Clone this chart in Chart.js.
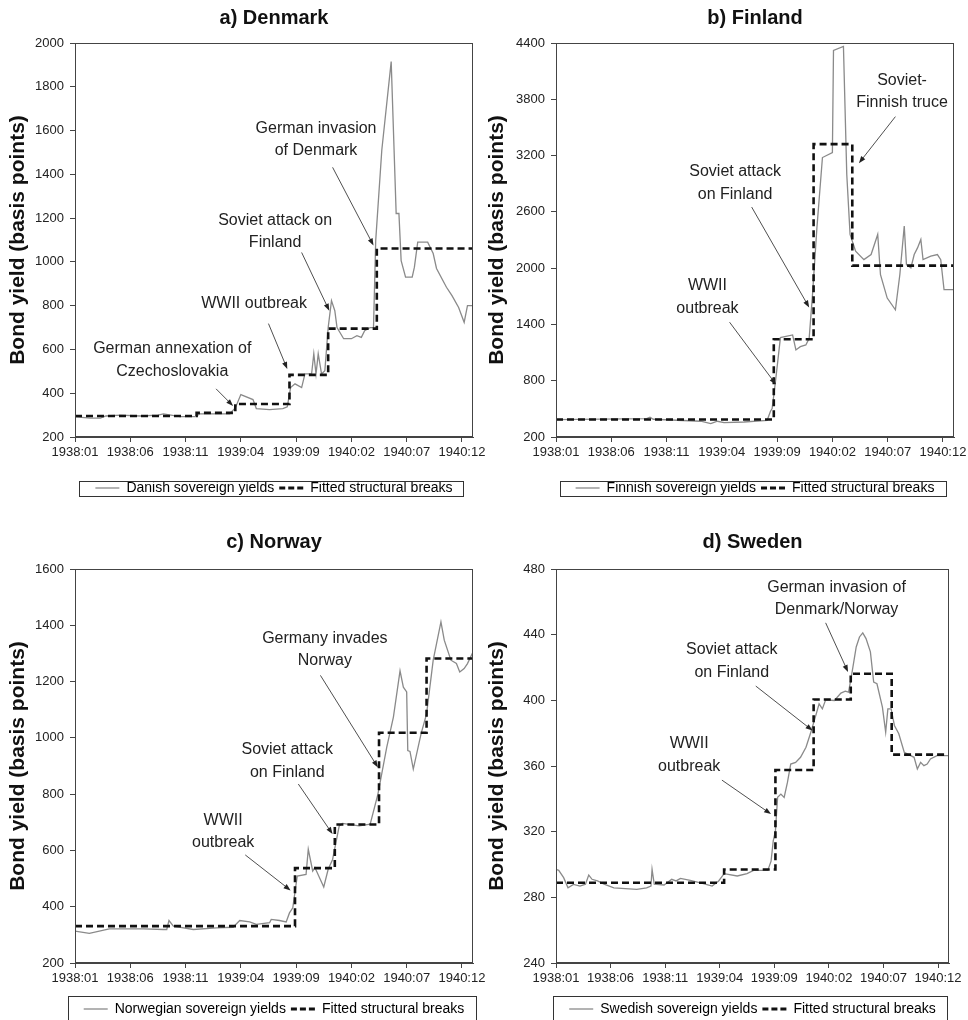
<!DOCTYPE html>
<html>
<head>
<meta charset="utf-8">
<script src="https://cdn.jsdelivr.net/npm/chart.js@4.4.1/dist/chart.umd.min.js"></script>
<style>
  html, body { margin: 0; padding: 0; background: #fff; overflow: hidden; }
  canvas { position: absolute; }
</style>
</head>
<body>
<canvas id="dk" width="490" height="505" style="left:0;top:0"></canvas>
<canvas id="fi" width="484" height="505" style="left:484px;top:0"></canvas>
<canvas id="no" width="490" height="526" style="left:0;top:500px"></canvas>
<canvas id="sw" width="484" height="526" style="left:484px;top:500px"></canvas>
<script>
// month index: 0 = 1938:01
const dkMonth = [0, 1.4, 2.3, 2.8, 4.1, 5.9, 7.5, 8.0, 9.5, 10.9, 11.3, 14.0, 14.5, 15.0, 16.1, 16.4, 17.6, 18.8, 19.2, 19.5,
  19.9, 20.5, 20.8, 21.4, 21.6, 21.8, 22.0, 22.3, 22.6, 22.9, 23.2, 23.5, 23.7, 24.3, 25.0, 25.5, 25.9, 26.2, 26.7, 27.0,
  27.2, 27.75, 28.6, 29.05, 29.3, 29.5, 29.9, 30.5, 30.7, 31.0, 31.9, 32.4, 32.7, 33.6, 34.1, 34.7, 35.2, 35.5, 36];
const dkYield = [292, 286, 286, 296, 300, 296, 300, 306, 293, 293, 306, 306, 333, 394, 371, 330, 325, 330, 338, 426,
  443, 426, 488, 488, 580, 488, 580, 488, 503, 700, 823, 777, 700, 649, 649, 663, 655, 686, 700, 700,
  1098, 1510, 1915, 1221, 1221, 1006, 930, 930, 976, 1090, 1090, 1038, 970, 884, 846, 792, 724, 800, 800];
const dkBreaks = [11.0, 14.5, 19.4, 22.9, 27.3];
const dkLevels = [296, 310, 351, 484, 695, 1061];

const fiMonth = [0, 8.2, 8.5, 8.8, 13.1, 14.0, 14.6, 15.2, 17.0, 19.1, 19.4, 19.55, 19.85, 20.3, 21.4, 21.7, 22.1, 22.6,
  22.9, 23.2, 23.6, 24.1, 25.0, 25.1, 26.0, 26.3, 26.6, 27.1, 27.85, 28.5, 29.1, 29.35, 29.96, 30.7, 31.1, 31.5, 31.7,
  32.1, 32.4, 32.7, 33.0, 33.2, 33.9, 34.5, 34.8, 35.1, 36];
const fiYield = [386, 396, 410, 389, 368, 343, 368, 353, 360, 378, 475, 503, 789, 1260, 1288, 1128, 1163, 1181,
  1253, 1716, 2430, 3179, 3233, 4321, 4364, 3001, 2359, 2180, 2091, 2145, 2359, 1930, 1681, 1556, 1930, 2448, 2038,
  2002, 2145, 2216, 2305, 2091, 2127, 2145, 2091, 1770, 1770];
const fiBreaks = [19.7, 23.3, 26.8];
const fiLevels = [386, 1242, 3322, 2027];

const noMonth = [0, 1.3, 3.1, 6.2, 8.0, 8.3, 8.5, 8.9, 10.7, 12.8, 14.3, 14.9, 15.8, 16.4, 17.6, 17.75, 18.5, 19.1, 19.4,
  19.7, 20.1, 20.9, 21.1, 21.5, 21.7, 22.5, 22.9, 23.3, 23.9, 24.2, 25.7, 26.7, 27.4, 28.2, 28.8, 29.4, 29.7, 30.0,
  30.1, 30.3, 30.6, 31.3, 31.8, 32.4, 33.1, 33.4, 34.0, 34.5, 34.8, 35.2, 35.5, 36];
const noYield = [313, 305, 321, 321, 319, 319, 351, 331, 319, 325, 327, 351, 346, 337, 343, 355, 351, 346, 378,
  396, 509, 515, 604, 527, 539, 470, 533, 568, 687, 696, 687, 693, 800, 967, 1074, 1238, 1180, 1163,
  955, 952, 889, 1014, 1085, 1276, 1412, 1347, 1276, 1264, 1234, 1246, 1264, 1305];
const noBreaks = [19.9, 23.5, 27.5, 31.8];
const noLevels = [331, 537, 692, 1018, 1282];

const swMonth = [0, 0.25, 0.7, 1.1, 1.6, 2.2, 2.7, 3.0, 3.3, 3.8, 4.4, 5.3, 7.4, 8.3, 8.7, 8.8, 9.0, 9.9, 10.6, 11.0,
  11.4, 12.3, 13.5, 14.3, 14.9, 15.4, 16.6, 17.5, 18.1, 19.4, 19.7, 19.9, 20.1, 20.3, 20.6, 20.9, 21.2, 21.5, 21.95,
  22.4, 22.9, 23.3, 23.8, 24.1, 24.4, 24.7, 25.5, 26.1, 26.5, 26.8, 27.1, 27.5, 27.8, 28.1, 28.4, 28.8, 29.1, 29.4,
  29.9, 30.2, 30.4, 30.7, 31.0, 31.4, 31.9, 32.8, 33.1, 33.4, 33.7, 34.0, 34.3, 34.9, 36];
const swYield = [297, 296.4, 292, 285.8, 287.9, 286.9, 288, 293.6, 291, 290, 288, 285.8, 284.8, 285.8, 286.9, 297, 288, 287.5, 291, 290,
  291.5, 290.3, 288.3, 286.9, 290, 294.4, 293, 294.4, 296.4, 296.4, 302, 314.4, 320.5, 340.9, 342.9, 340.9, 350, 361.2, 362.2,
  365.3, 371.4, 379.6, 390.8, 397.9, 394.8, 400.3, 399.9, 404.4, 405.6, 405, 416.2, 432.5, 438.6, 441.1, 437.6, 429.5, 411.1, 410.1,
  395.9, 380.6, 394.8, 394.8, 384.7, 379.6, 368.4, 365.3, 358.2, 362.2, 360.2, 361.2, 364.3, 366.3, 366.3];
const swBreaks = [15.4, 20.1, 23.6, 27.0, 30.75];
const swLevels = [288.9, 297, 357.6, 400.5, 416.2, 366.9];

Chart.defaults.font.family = '"Liberation Sans", Arial, sans-serif';
Chart.defaults.color = '#222';
Chart.defaults.animation = false;

function monthLabel(m) {
  const yr = 1938 + Math.floor(m / 12);
  return yr + ':' + String(m % 12 + 1).padStart(2, '0');
}
const pts = (xs, ys) => xs.map((x, i) => ({ x: x, y: ys[i] }));
function stepPoints(breaks, levels) {
  const out = [{ x: 0, y: levels[0] }];
  breaks.forEach((b, i) => out.push({ x: b, y: levels[i + 1] }));
  out.push({ x: 36, y: levels[levels.length - 1] });
  return out;
}

function arrow(ctx, x1, y1, x2, y2) {
  const ang = Math.atan2(y2 - y1, x2 - x1), len = 7, wid = 2.6;
  const c = Math.cos(ang), s = Math.sin(ang);
  ctx.beginPath();
  ctx.moveTo(x1, y1);
  ctx.lineTo(x2 - c * len * 0.7, y2 - s * len * 0.7);
  ctx.stroke();
  ctx.beginPath();
  ctx.moveTo(x2, y2);
  ctx.lineTo(x2 - len * c + wid * s, y2 - len * s - wid * c);
  ctx.lineTo(x2 - len * c - wid * s, y2 - len * s + wid * c);
  ctx.closePath();
  ctx.fill();
}

// frame round the plot, event notes with arrows, box round the legend
const notesPlugin = {
  id: 'notes',
  afterDraw(chart, args, opts) {
    const { ctx, chartArea: a, scales: { x, y } } = chart;
    ctx.save();
    ctx.strokeStyle = '#444';
    ctx.lineWidth = 1;
    ctx.strokeRect(Math.round(a.left) + 0.5, Math.round(a.top) + 0.5, Math.round(a.right - a.left) - 1, Math.round(a.bottom - a.top) - 1);

    ctx.font = '16px "Liberation Sans", Arial, sans-serif';
    ctx.fillStyle = '#222';
    ctx.strokeStyle = '#222';
    ctx.lineWidth = 0.8;
    ctx.textAlign = 'center';
    ctx.textBaseline = 'middle';
    opts.notes.forEach(n => {
      const px = x.getPixelForValue(n.at[0]), py = y.getPixelForValue(n.at[1]);
      n.text.forEach((t, i) => ctx.fillText(t, px, py + i * 22.5));
      arrow(ctx, x.getPixelForValue(n.arrow[0]), y.getPixelForValue(n.arrow[1]),
        x.getPixelForValue(n.arrow[2]), y.getPixelForValue(n.arrow[3]));
    });

    const hb = chart.legend.legendHitBoxes;
    const last = hb[hb.length - 1];
    const left = hb[0].left - 16, right = last.left + last.width + 11;
    const cy = hb[0].top + hb[0].height / 2;
    ctx.strokeStyle = '#333';
    ctx.lineWidth = 1;
    ctx.strokeRect(Math.round(left) + 0.5, Math.round(cy - opts.boxHalf) + 0.5, Math.round(right - left), Math.round(2 * opts.boxHalf));
    ctx.restore();
  }
};

function makeChart(id, p) {
  return new Chart(document.getElementById(id), {
    type: 'line',
    data: {
      datasets: [{
        label: p.seriesLabel,
        data: pts(p.months, p.yields),
        borderColor: '#8a8a8a',
        borderWidth: 1.3,
        pointRadius: 0,
        order: 2
      }, {
        label: 'Fitted structural breaks',
        data: stepPoints(p.breaks, p.levels),
        borderColor: '#111',
        borderWidth: 2.6,
        borderDash: [7, 4],
        stepped: 'before',
        pointRadius: 0,
        order: 1
      }]
    },
    options: {
      responsive: false,
      layout: { padding: { left: 0, right: p.padR, top: 0, bottom: 0 } },
      scales: {
        x: {
          type: 'linear', min: 0, max: 36,
          ticks: { stepSize: 5, includeBounds: false, autoSkip: false, maxRotation: 0, padding: 3,
            font: { size: 13 }, color: '#222', callback: v => monthLabel(v) },
          grid: { drawOnChartArea: false, tickLength: 5, color: '#444' },
          border: { color: '#444' },
          afterFit: s => { s.height = p.xH; s.paddingLeft = 0; s.paddingRight = 0; }
        },
        y: {
          min: p.yMin, max: p.yMax,
          ticks: { stepSize: p.yStep, padding: 6, font: { size: 13 }, color: '#222', callback: v => String(v) },
          grid: { drawOnChartArea: false, tickLength: 5, color: '#444' },
          border: { color: '#444' },
          title: { display: true, text: 'Bond yield (basis points)', color: '#111',
            font: { size: 21, weight: 'bold' }, padding: { top: p.yTitlePad, bottom: 0 } },
          afterFit: s => { s.width = p.yW; }
        }
      },
      plugins: {
        title: { display: true, text: p.title, fullSize: false, color: '#111',
          font: { size: 20, weight: 'bold' }, padding: p.titlePad },
        legend: {
          position: 'bottom', fullSize: false,
          labels: {
            usePointStyle: true, pointStyleWidth: 24, padding: 5, color: '#222', font: { size: 14 },
            generateLabels: chart => chart.data.datasets.map((ds, i) => ({
              text: ds.label, datasetIndex: i, hidden: false,
              strokeStyle: ds.borderColor, fillStyle: ds.borderColor,
              lineWidth: i ? 3 : 1.3, lineDash: i ? [6, 3] : [], pointStyle: 'line'
            }))
          }
        },
        tooltip: { enabled: false },
        notes: { notes: p.notes, boxHalf: p.boxHalf }
      }
    },
    plugins: [notesPlugin]
  });
}

makeChart('dk', {
  title: 'a) Denmark', seriesLabel: 'Danish sovereign yields',
  months: dkMonth, yields: dkYield, breaks: dkBreaks, levels: dkLevels,
  yMin: 200, yMax: 2000, yStep: 200,
  yW: 75, padR: 17, xH: 39, yTitlePad: 6, titlePad: { top: 6, bottom: 13 }, boxHalf: 7.5,
  notes: [
    { text: ['German annexation of', 'Czechoslovakia'], at: [8.8, 603], arrow: [12.76, 420, 14.3, 342] },
    { text: ['WWII outbreak'], at: [16.2, 809], arrow: [17.5, 718, 19.2, 511] },
    { text: ['Soviet attack on', 'Finland'], at: [18.1, 1189], arrow: [20.5, 1043, 23.0, 777] },
    { text: ['German invasion', 'of Denmark'], at: [21.8, 1611], arrow: [23.3, 1432, 27.0, 1075] }
  ]
});

makeChart('fi', {
  title: 'b) Finland', seriesLabel: 'Finnish sovereign yields',
  months: fiMonth, yields: fiYield, breaks: fiBreaks, levels: fiLevels,
  yMin: 200, yMax: 4400, yStep: 600,
  yW: 72, padR: 14, xH: 39, yTitlePad: 1, titlePad: { top: 6, bottom: 13 }, boxHalf: 7.5,
  notes: [
    { text: ['Soviet-', 'Finnish truce'], at: [31.3, 4000], arrow: [30.7, 3615, 27.4, 3119] },
    { text: ['Soviet attack', 'on Finland'], at: [16.2, 3029], arrow: [17.7, 2651, 22.9, 1581] },
    { text: ['WWII', 'outbreak'], at: [13.7, 1813], arrow: [15.7, 1424, 19.9, 760] }
  ]
});

makeChart('no', {
  title: 'c) Norway', seriesLabel: 'Norwegian sovereign yields',
  months: noMonth, yields: noYield, breaks: noBreaks, levels: noLevels,
  yMin: 200, yMax: 1600, yStep: 200,
  yW: 75, padR: 17, xH: 34, yTitlePad: 6, titlePad: { top: 30, bottom: 15 }, boxHalf: 13.5,
  notes: [
    { text: ['Germany invades', 'Norway'], at: [22.6, 1353], arrow: [22.2, 1222, 27.4, 895] },
    { text: ['Soviet attack', 'on Finland'], at: [19.2, 957], arrow: [20.2, 836, 23.3, 658] },
    { text: ['WWII', 'outbreak'], at: [13.4, 707], arrow: [15.4, 584, 19.5, 458] }
  ]
});

makeChart('sw', {
  title: 'd) Sweden', seriesLabel: 'Swedish sovereign yields',
  months: swMonth, yields: swYield, breaks: swBreaks, levels: swLevels,
  yMin: 240, yMax: 480, yStep: 40,
  yW: 72, padR: 19, xH: 34, yTitlePad: 1, titlePad: { top: 30, bottom: 15 }, boxHalf: 13.5,
  notes: [
    { text: ['German invasion of', 'Denmark/Norway'], at: [25.7, 468.8], arrow: [24.7, 447.2, 26.75, 417.3] },
    { text: ['Soviet attack', 'on Finland'], at: [16.1, 430.9], arrow: [18.3, 408.7, 23.5, 381.6] },
    { text: ['WWII', 'outbreak'], at: [12.2, 373.4], arrow: [15.2, 351.4, 19.7, 330.7] }
  ]
});
</script>
</body>
</html>
